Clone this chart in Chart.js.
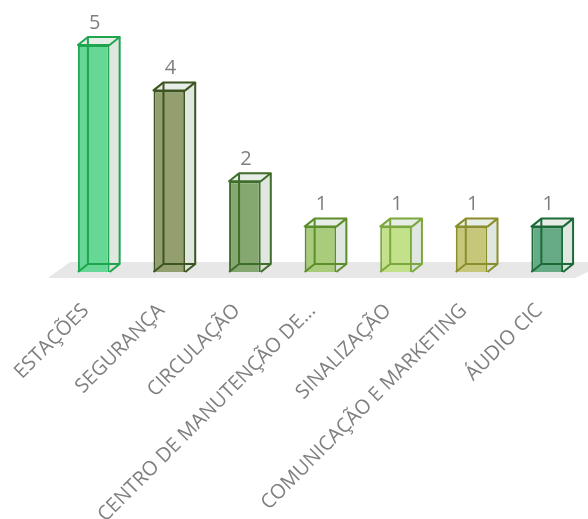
<!DOCTYPE html>
<html>
<head>
    <title>Ocorrências por área</title>
    <script src="https://cdn.jsdelivr.net/npm/chart.js"></script>
    <style>
        html, body { margin: 0; padding: 0; background: #ffffff; }
        #wrap { width: 588px; height: 519px; }
    </style>
</head>
<body>
    <div id="wrap"><canvas id="areaChart"></canvas></div>
    <script>
    // categories and values
    const areas = ['ESTAÇÕES', 'SEGURANÇA', 'CIRCULAÇÃO', 'CENTRO DE MANUTENÇÃO DE...',
                   'SINALIZAÇÃO', 'COMUNICAÇÃO E MARKETING', 'ÁUDIO CIC'];
    const counts = [5, 4, 2, 1, 1, 1, 1];

    // front face / edge colour for each bar
    const fillColors = ['#66d795', '#939f6f', '#84a870', '#a8cc7c', '#c3e08a', '#c7c77c', '#67ab86'];
    const edgeColors = ['#1ea54e', '#3d5520', '#3f6d2a', '#5c8e2a', '#7aa83c', '#8a8e2c', '#1b6a38'];

    const DX = 10, DY = 8; // fake depth of the boxes

    const box3d = {
        id: 'box3d',
        beforeDatasetsDraw(chart) {
            const ctx = chart.ctx;
            const area = chart.chartArea;
            const y0 = chart.scales.y.getPixelForValue(0);
            // grey floor under the bars
            ctx.save();
            ctx.fillStyle = '#e7e7e7';
            ctx.beginPath();
            ctx.moveTo(area.left - 8, y0 + 6);
            ctx.lineTo(area.left + 14, y0 - 10);
            ctx.lineTo(chart.width + 20, y0 - 10);
            ctx.lineTo(chart.width - 13, y0 + 6);
            ctx.closePath();
            ctx.fill();
            ctx.restore();
        },
        afterDatasetsDraw(chart) {
            const ctx = chart.ctx;
            const meta = chart.getDatasetMeta(0);
            meta.data.forEach((bar, i) => {
                const p = bar.getProps(['x', 'y', 'base', 'width'], true);
                const l = p.x - p.width / 2, r = p.x + p.width / 2;
                const t = p.y, b = p.base;
                ctx.save();
                ctx.lineWidth = 2;
                ctx.strokeStyle = edgeColors[i];
                ctx.lineJoin = 'round';
                // right face
                ctx.fillStyle = 'rgba(214, 222, 214, 0.75)';
                ctx.beginPath();
                ctx.moveTo(r, t);
                ctx.lineTo(r + DX, t - DY);
                ctx.lineTo(r + DX, b - DY);
                ctx.lineTo(r, b);
                ctx.closePath();
                ctx.fill();
                // top face
                ctx.fillStyle = 'rgba(225, 232, 225, 0.8)';
                ctx.beginPath();
                ctx.moveTo(l, t);
                ctx.lineTo(l + DX, t - DY);
                ctx.lineTo(r + DX, t - DY);
                ctx.lineTo(r, t);
                ctx.closePath();
                ctx.fill();
                ctx.stroke();
                // outline of the right face
                ctx.beginPath();
                ctx.moveTo(r + DX, t - DY);
                ctx.lineTo(r + DX, b - DY);
                ctx.lineTo(r, b);
                ctx.stroke();
                // back edges seen through the glass
                ctx.beginPath();
                ctx.moveTo(l + DX, t - DY);
                ctx.lineTo(l + DX, b - DY);
                ctx.lineTo(r + DX, b - DY);
                ctx.moveTo(l, b);
                ctx.lineTo(l + DX, b - DY);
                ctx.stroke();
                // value label
                ctx.fillStyle = '#7f7f7f';
                ctx.font = '20px "Open Sans"';
                ctx.textAlign = 'center';
                ctx.textBaseline = 'middle';
                ctx.fillText(String(counts[i]), p.x + 1, t - 22);
                ctx.restore();
            });
        }
    };

    const chart = new Chart(document.getElementById('areaChart'), {
        type: 'bar',
        data: {
            labels: areas,
            datasets: [{
                data: counts,
                backgroundColor: fillColors,
                borderColor: edgeColors,
                borderWidth: 2,
                categoryPercentage: 1.0,
                barPercentage: 0.42
            }]
        },
        options: {
            responsive: true,
            maintainAspectRatio: false,
            animation: false,
            layout: {
                autoPadding: false,
                padding: { left: 56, right: 3, top: 45, bottom: 0 }
            },
            scales: {
                x: {
                    grid: { display: false, drawTicks: false },
                    border: { display: false },
                    ticks: {
                        color: '#7f7f7f',
                        font: { family: '"Open Sans"', size: 20 },
                        minRotation: 45,
                        maxRotation: 45,
                        autoSkip: false,
                        padding: 27,
                        labelOffset: -8
                    },
                    afterFit(axis) {
                        axis.height = 247;
                        axis.paddingLeft = 0;
                        axis.paddingRight = 0;
                    }
                },
                y: {
                    display: false,
                    min: 0,
                    max: 5
                }
            },
            plugins: {
                legend: { display: false },
                tooltip: { enabled: false }
            }
        },
        plugins: [box3d]
    });
    </script>
</body>
</html>
